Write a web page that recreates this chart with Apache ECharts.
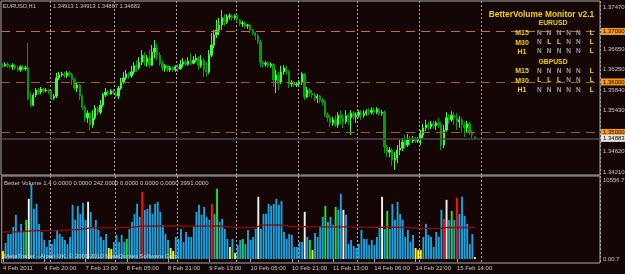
<!DOCTYPE html>
<html><head><meta charset="utf-8">
<script src="https://cdn.jsdelivr.net/npm/echarts/dist/echarts.min.js"></script>
<style>html,body{margin:0;padding:0;background:#150606;}#c{width:625px;height:274px;}</style>
</head><body><div id="c"></div>
<script>
// ---------- DATA ----------
const symbolTitle = 'EURUSD,H1';
const lastOHLC = [1.34913, 1.34913, 1.34867, 1.34883];
const tickLabels = ['4 Feb 2011','4 Feb 20:00','7 Feb 13:00','8 Feb 05:00','8 Feb 21:00','9 Feb 13:00','10 Feb 05:00','10 Feb 21:00','11 Feb 13:00','14 Feb 06:00','14 Feb 22:00','15 Feb 14:00'];
const priceTicks = [1.37470, 1.36650, 1.36250, 1.35840, 1.35430, 1.34620, 1.34210];
const levels = [1.37000, 1.36000, 1.35000];
const bidPrice = 1.34883;
// [open, close, low, high]
const candles = [
[1.3633,1.3632,1.3628,1.3637],[1.3632,1.3635,1.3630,1.3639],[1.3635,1.3632,1.3628,1.3639],[1.3632,1.3630,1.3626,1.3635],[1.3630,1.3633,1.3624,1.3637],
[1.3633,1.3628,1.3624,1.3635],[1.3628,1.3624,1.3620,1.3632],[1.3624,1.3630,1.3620,1.3633],[1.3630,1.3626,1.3622,1.3633],[1.3626,1.3628,1.3622,1.3632],
[1.3628,1.3566,1.3564,1.3677],[1.3566,1.3554,1.3550,1.3580],[1.3554,1.3574,1.3552,1.3578],[1.3574,1.3584,1.3570,1.3588],[1.3584,1.3580,1.3574,1.3588],
[1.3580,1.3586,1.3576,1.3590],[1.3586,1.3582,1.3578,1.3588],[1.3582,1.3584,1.3580,1.3588],[1.3584,1.3580,1.3576,1.3586],[1.3580,1.3568,1.3564,1.3584],
[1.3568,1.3572,1.3564,1.3576],[1.3572,1.3608,1.3568,1.3618],[1.3608,1.3614,1.3604,1.3620],[1.3614,1.3616,1.3610,1.3620],[1.3616,1.3612,1.3608,1.3620],
[1.3612,1.3618,1.3608,1.3622],[1.3618,1.3614,1.3610,1.3622],[1.3614,1.3604,1.3594,1.3618],[1.3604,1.3588,1.3584,1.3608],[1.3588,1.3594,1.3580,1.3600],
[1.3594,1.3572,1.3564,1.3596],[1.3572,1.3550,1.3544,1.3574],[1.3550,1.3529,1.3521,1.3554],[1.3529,1.3538,1.3519,1.3544],[1.3538,1.3515,1.3505,1.3540],
[1.3515,1.3529,1.3509,1.3544],[1.3529,1.3548,1.3525,1.3554],[1.3548,1.3540,1.3534,1.3552],[1.3540,1.3554,1.3536,1.3564],[1.3554,1.3574,1.3550,1.3578],
[1.3574,1.3580,1.3570,1.3588],[1.3580,1.3576,1.3572,1.3584],[1.3576,1.3582,1.3574,1.3586],[1.3582,1.3578,1.3574,1.3586],[1.3578,1.3572,1.3568,1.3582],
[1.3572,1.3588,1.3566,1.3592],[1.3588,1.3600,1.3584,1.3608],[1.3600,1.3608,1.3596,1.3620],[1.3608,1.3616,1.3604,1.3624],[1.3616,1.3612,1.3606,1.3620],
[1.3612,1.3620,1.3608,1.3632],[1.3620,1.3632,1.3616,1.3639],[1.3632,1.3628,1.3620,1.3643],[1.3628,1.3639,1.3624,1.3649],[1.3639,1.3653,1.3633,1.3663],
[1.3653,1.3639,1.3632,1.3659],[1.3639,1.3647,1.3630,1.3653],[1.3647,1.3633,1.3628,1.3663],[1.3633,1.3659,1.3632,1.3673],[1.3659,1.3667,1.3647,1.3683],
[1.3667,1.3653,1.3643,1.3675],[1.3653,1.3637,1.3632,1.3659],[1.3637,1.3628,1.3622,1.3643],[1.3628,1.3632,1.3620,1.3635],[1.3632,1.3624,1.3620,1.3633],
[1.3624,1.3628,1.3620,1.3632],[1.3628,1.3624,1.3620,1.3632],[1.3624,1.3630,1.3620,1.3633],[1.3630,1.3626,1.3620,1.3635],[1.3626,1.3635,1.3624,1.3643],
[1.3635,1.3639,1.3630,1.3647],[1.3639,1.3635,1.3632,1.3645],[1.3635,1.3641,1.3632,1.3649],[1.3641,1.3637,1.3633,1.3657],[1.3637,1.3643,1.3635,1.3651],
[1.3643,1.3647,1.3639,1.3655],[1.3647,1.3633,1.3624,1.3651],[1.3633,1.3643,1.3628,1.3653],[1.3643,1.3624,1.3610,1.3647],[1.3624,1.3620,1.3610,1.3639],
[1.3620,1.3653,1.3616,1.3663],[1.3653,1.3673,1.3649,1.3697],[1.3673,1.3693,1.3667,1.3703],[1.3693,1.3703,1.3687,1.3723],[1.3703,1.3713,1.3693,1.3727],
[1.3713,1.3727,1.3703,1.3742],[1.3727,1.3719,1.3711,1.3734],[1.3719,1.3729,1.3715,1.3734],[1.3729,1.3731,1.3723,1.3736],[1.3731,1.3727,1.3721,1.3734],
[1.3727,1.3731,1.3723,1.3734],[1.3731,1.3723,1.3719,1.3732],[1.3723,1.3715,1.3711,1.3725],[1.3715,1.3717,1.3709,1.3721],[1.3717,1.3711,1.3707,1.3719],
[1.3711,1.3713,1.3705,1.3715],[1.3713,1.3703,1.3697,1.3715],[1.3703,1.3697,1.3693,1.3705],[1.3697,1.3691,1.3683,1.3699],[1.3691,1.3679,1.3675,1.3695],
[1.3679,1.3639,1.3630,1.3683],[1.3639,1.3635,1.3628,1.3643],[1.3635,1.3637,1.3630,1.3641],[1.3637,1.3632,1.3628,1.3641],[1.3632,1.3635,1.3628,1.3639],
[1.3635,1.3604,1.3590,1.3637],[1.3604,1.3614,1.3578,1.3624],[1.3614,1.3600,1.3584,1.3620],[1.3600,1.3620,1.3596,1.3632],[1.3620,1.3628,1.3614,1.3633],
[1.3628,1.3620,1.3614,1.3632],[1.3620,1.3596,1.3588,1.3624],[1.3596,1.3598,1.3590,1.3604],[1.3598,1.3594,1.3590,1.3602],[1.3594,1.3596,1.3590,1.3600],
[1.3596,1.3600,1.3592,1.3604],[1.3600,1.3616,1.3594,1.3620],[1.3616,1.3570,1.3564,1.3618],[1.3570,1.3584,1.3568,1.3590],[1.3584,1.3578,1.3570,1.3588],
[1.3578,1.3574,1.3568,1.3584],[1.3574,1.3568,1.3562,1.3578],[1.3568,1.3572,1.3558,1.3576],[1.3572,1.3564,1.3558,1.3574],[1.3564,1.3560,1.3554,1.3568],
[1.3560,1.3536,1.3531,1.3564],[1.3536,1.3529,1.3521,1.3540],[1.3529,1.3519,1.3511,1.3533],[1.3519,1.3525,1.3513,1.3531],[1.3525,1.3515,1.3511,1.3534],
[1.3515,1.3534,1.3509,1.3540],[1.3534,1.3529,1.3517,1.3544],[1.3529,1.3521,1.3509,1.3536],[1.3521,1.3533,1.3517,1.3544],[1.3533,1.3529,1.3515,1.3538],
[1.3529,1.3538,1.3495,1.3544],[1.3538,1.3531,1.3525,1.3542],[1.3531,1.3534,1.3519,1.3540],[1.3534,1.3540,1.3529,1.3544],[1.3540,1.3534,1.3525,1.3544],
[1.3534,1.3538,1.3529,1.3544],[1.3538,1.3542,1.3533,1.3546],[1.3542,1.3540,1.3534,1.3548],[1.3540,1.3544,1.3536,1.3550],[1.3544,1.3540,1.3534,1.3550],
[1.3540,1.3546,1.3536,1.3550],[1.3546,1.3538,1.3533,1.3548],[1.3538,1.3540,1.3533,1.3544],[1.3540,1.3471,1.3459,1.3544],[1.3471,1.3461,1.3451,1.3475],
[1.3461,1.3465,1.3451,1.3471],[1.3465,1.3445,1.3434,1.3469],[1.3445,1.3449,1.3426,1.3461],[1.3449,1.3465,1.3439,1.3475],[1.3465,1.3469,1.3455,1.3485],
[1.3469,1.3481,1.3463,1.3489],[1.3481,1.3475,1.3469,1.3495],[1.3475,1.3485,1.3471,1.3497],[1.3485,1.3483,1.3475,1.3493],[1.3483,1.3487,1.3479,1.3493],
[1.3487,1.3483,1.3479,1.3491],[1.3483,1.3487,1.3479,1.3491],[1.3487,1.3495,1.3475,1.3505],[1.3495,1.3509,1.3489,1.3517],[1.3509,1.3515,1.3503,1.3525],
[1.3515,1.3511,1.3505,1.3521],[1.3511,1.3517,1.3507,1.3523],[1.3517,1.3513,1.3507,1.3523],[1.3513,1.3519,1.3505,1.3523],[1.3519,1.3515,1.3509,1.3529],
[1.3515,1.3475,1.3465,1.3521],[1.3475,1.3505,1.3469,1.3515],[1.3505,1.3529,1.3501,1.3540],[1.3529,1.3525,1.3517,1.3536],[1.3525,1.3534,1.3521,1.3542],
[1.3534,1.3529,1.3515,1.3540],[1.3529,1.3521,1.3505,1.3538],[1.3521,1.3525,1.3509,1.3533],[1.3525,1.3515,1.3499,1.3529],[1.3515,1.3509,1.3491,1.3521],
[1.3509,1.3517,1.3501,1.3523],[1.3517,1.3501,1.3495,1.3521],[1.3501,1.3495,1.3489,1.3505],[1.34913,1.34883,1.34867,1.34913]
];
const volumes = [
1070,2140,3350,3350,4290,5900,3620,4690,3620,5230,
8040,10050,6700,7370,4690,3620,2550,1610,2550,2010,
2680,3890,3350,2950,2550,2010,2950,7240,5230,7100,
6030,7500,5230,7640,6300,4290,5230,3890,2950,2550,
3350,1470,1340,2280,3220,2280,3220,2280,2680,4020,
4960,6030,7370,5630,8980,6570,6700,7240,6030,7370,
7640,6300,4560,3350,2550,1470,1070,2950,2680,4020,
2280,3620,2950,2950,4290,6300,7240,5900,6970,5630,
5230,7370,6030,9380,4960,5360,4020,2680,1610,2680,
800,1880,2550,2680,2010,3890,2550,2950,4020,8310,
4020,6030,6030,7370,7100,7370,8040,7240,7770,3620,
2680,3350,3220,1610,1610,2280,2280,6300,2950,2550,
1210,3480,2950,4420,5630,7100,4960,5630,4560,6970,
6570,8710,6570,5900,2010,2550,1740,1470,2010,3890,
2680,2680,1880,2550,1880,2950,4150,8310,4020,6430,
4020,7370,5230,7640,6030,5230,2950,3890,2280,3220,
1470,1210,1210,2950,4690,3220,2950,1610,3620,2950,
6570,5360,7910,5230,6430,5230,8170,6030,8310,5760,
4690,2010,3350,270
];
const yellowBars = [0,41,42,65,66,88,90,120,160,161,162,183];
const greenBars = [9,48,83,93,119,125,129,149,174];
const redBars = [54,81,171,176];
const whiteBars = [10,33,99,117,132,147,172];
const volumeMA = [[0,3610],[8,3650],[12,3780],[20,3800],[24,3870],[30,3950],[34,4150],[44,4180],[50,4250],[54,4400],[64,4420],[76,4380],[84,4420],[88,4300],[92,4180],[98,4200],[100,4520],[108,4540],[112,4340],[124,4300],[134,4290],[138,4230],[150,4260],[158,4180],[162,4100],[170,4110],[172,4220],[183,4200]];
const volumeTicks = [[10556.7,'10556.7'],[0,'0.00.7']];
const volumeHeader = 'Better Volume 1.4';
const volumeHeaderValues = ['0.0000','0.0000','242.0000','0.0000','0.0000','0.0000','3991.0000'];
const watermark = 'MetaTrader - Alpari UK, \u00a9 2001-2010 MetaQuotes Software Corp.';
const monitorTitle = 'BetterVolume Monitor v2.1';
const timeframes = ['M15','M30','H1'];
const monitorSymbols = ['EURUSD','GBPUSD'];
const monitorEURUSD = ['NNNNNL','NLLNNL','NNNNNL'];
const monitorGBPUSD = ['NNNNNL','LLLNNL','NNNNNL'];

// ---------- LAYOUT / STYLE ----------
const SLOTS = 232;
const cats = Array.from({length: SLOTS}, (_, i) => String(i));
const gridLineIdx = [19,44,68,91,115,138,162,186];
const FF = 'Liberation Sans';
const BG = '#150606';
const GOLD = '#f2d000';
const TXT = '#c8c8c8';
const NOLINE = {color: 'rgba(0,0,0,0)', width: 0};

const volColor = i => yellowBars.includes(i) ? '#ffff00' : greenBars.includes(i) ? '#1ee61e' :
  redBars.includes(i) ? '#ff1010' : whiteBars.includes(i) ? '#f4f4f4' : '#1aa3e0';

const vSplit = {show: true, interval: (i) => gridLineIdx.includes(i), lineStyle: {color: '#a8a8a8', type: [2, 2], width: 1}};

const tickMarks = priceTicks.map(v => ({yAxis: v, lineStyle: NOLINE,
  label: {show: true, position: 'end', distance: 3, formatter: v.toFixed(5), color: TXT, fontSize: 6, fontFamily: FF}}));
const levelMarks = levels.map((v, k) => ({yAxis: v, lineStyle: {color: k === 0 ? '#c47410' : '#a0600f', type: [9, 6], width: 1},
  label: {show: true, position: 'end', distance: 1, formatter: v.toFixed(5), color: '#000', backgroundColor: '#ff9a10', padding: [1, 1, 0, 2], fontSize: 6, fontFamily: FF}}));
const bidMark = {yAxis: bidPrice, lineStyle: {color: '#4a4a4a', type: 'solid', width: 1.5},
  label: {show: true, position: 'end', distance: 1, formatter: bidPrice.toFixed(5), color: '#000', backgroundColor: '#e8e8e8', padding: [1, 1, 0, 2], fontSize: 6, fontFamily: FF}};

const volMarks = volumeTicks.map(([v, t]) => ({yAxis: v, lineStyle: NOLINE,
  label: {show: true, position: 'end', distance: 3, formatter: t, color: TXT, fontSize: 6, fontFamily: FF}}));

// graphics (texts)
const g = [];
const txt = (x, y, s, fill, font, align, z) => g.push({type: 'text', x: x, y: y, z: z || 10, silent: true,
  style: {text: s, fill: fill, font: font, textAlign: align || 'left', textVerticalAlign: 'middle', align: align || 'left', verticalAlign: 'middle'}});
txt(3, 6, symbolTitle, TXT, '5.7px "' + FF + '"');
txt(53, 6, lastOHLC.map(v => v.toFixed(5)).join(' '), TXT, '5.7px "' + FF + '"');
txt(4, 183.5, volumeHeader + ' ' + volumeHeaderValues.join(' '), TXT, '6px "' + FF + '"');
txt(4, 256.5, watermark, 'rgba(225,225,225,0.85)', '6px "' + FF + '"');
txt(541.5, 14.3, monitorTitle, GOLD, 'bold 8.4px "' + FF + '"', 'center');
const symY = [23.3, 61.7];
const rowY = [[33.3, 42.7, 51.7], [71, 80.6, 90.3]];
const colX = [539.3, 549.2, 559, 568.7, 578.3, 591.8];
[monitorEURUSD, monitorGBPUSD].forEach((rows, s) => {
  txt(553, symY[s], monitorSymbols[s], GOLD, 'bold 6.8px "' + FF + '"', 'center');
  rows.forEach((r, k) => {
    txt(522, rowY[s][k], timeframes[k], GOLD, 'bold 7px "' + FF + '"', 'center');
    r.split('').forEach((ch, c) => txt(colX[c], rowY[s][k], ch, ch === 'L' ? '#ece000' : '#9c9c9c', 'bold 6.5px "' + FF + '"', 'center'));
  });
});

const chart = echarts.init(document.getElementById('c'), null, {renderer: 'canvas'});
chart.setOption({
  backgroundColor: BG,
  animation: false,
  grid: [
    {left: 1, right: 25, top: 1, height: 174, show: true, borderColor: '#a8a8a8', borderWidth: 1, backgroundColor: 'transparent'},
    {left: 1, right: 25, top: 176, height: 87, show: true, borderColor: '#a8a8a8', borderWidth: 1, backgroundColor: 'transparent'}
  ],
  xAxis: [
    {type: 'category', gridIndex: 0, data: cats, boundaryGap: true, axisLine: {show: false}, axisTick: {show: false}, axisLabel: {show: false}, splitLine: vSplit},
    {type: 'category', gridIndex: 1, data: cats, boundaryGap: true, axisLine: {show: false},
      axisTick: {show: true, alignWithLabel: true, length: 3, interval: (i) => i % 16 === 0 && i / 16 < tickLabels.length, lineStyle: {color: '#a8a8a8'}},
      axisLabel: {show: true, interval: (i) => i % 16 === 0 && i / 16 < tickLabels.length, formatter: (v, i) => tickLabels[Math.round(i / 16)] || '',
        align: 'left', margin: 2, color: TXT, fontSize: 6, fontFamily: FF},
      splitLine: vSplit}
  ],
  yAxis: [
    {type: 'value', gridIndex: 0, min: 1.34157, max: 1.37603, position: 'right', axisLine: {show: false}, axisTick: {show: false}, axisLabel: {show: false}, splitLine: {show: false}},
    {type: 'value', gridIndex: 1, min: -535, max: 11091, position: 'right', axisLine: {show: false}, axisTick: {show: false}, axisLabel: {show: false}, splitLine: {show: false}}
  ],
  series: [
    {type: 'candlestick', xAxisIndex: 0, yAxisIndex: 0, data: candles, barWidth: 1.8, z: 3,
      itemStyle: {color: '#3cff3c', color0: '#00a000', borderColor: '#3cff3c', borderColor0: '#00a000', borderWidth: 1},
      markLine: {symbol: 'none', silent: true, animation: false, precision: 5, data: tickMarks.concat(levelMarks, [bidMark])}},
    {type: 'bar', xAxisIndex: 1, yAxisIndex: 1, barWidth: 1.9, z: 2,
      data: volumes.map((v, i) => ({value: v, itemStyle: {color: volColor(i)}})),
      markLine: {symbol: 'none', silent: true, animation: false, data: volMarks}},
    {type: 'line', xAxisIndex: 1, yAxisIndex: 1, data: volumeMA, symbol: 'none', z: 4,
      lineStyle: {color: '#8e0a0a', width: 1.3}}
  ],
  graphic: g
});
</script></body></html>
